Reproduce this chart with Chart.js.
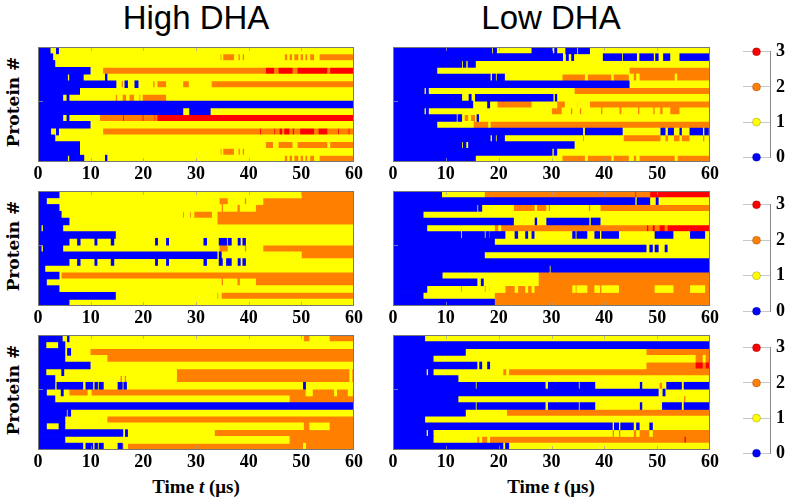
<!DOCTYPE html>
<html>
<head>
<meta charset="utf-8">
<script src="https://cdn.jsdelivr.net/npm/chart.js@4.4.1/dist/chart.umd.min.js"></script>
<style>
  body { margin: 0; background: #fff; }
  #fig { position: relative; width: 787px; height: 502px; overflow: hidden; }
  #fig canvas { position: absolute; }
  .title { position: absolute; top: 1px; font: 33px "Liberation Sans", Arial, sans-serif; line-height: 33px; transform: translateX(-50%); white-space: nowrap; }
  .ylab { position: absolute; left: 13px; font: bold 17px "DejaVu Serif", serif; white-space: nowrap; transform: translate(-50%, -50%) rotate(-90deg); }
  .xlab { position: absolute; top: 487px; font: bold 19px "Liberation Serif", serif; white-space: nowrap; transform: translate(-50%, -50%); }
</style>
</head>
<body>
<div id="fig">
  <div class="title" style="left:196px">High DHA</div>
  <div class="title" style="left:551px">Low DHA</div>
  <div class="ylab" style="top:102px">Protein #</div>
  <div class="ylab" style="top:246px">Protein #</div>
  <div class="ylab" style="top:390px">Protein #</div>
  <div class="xlab" style="left:196px">Time <i>t</i> (μs)</div>
  <div class="xlab" style="left:551px">Time <i>t</i> (μs)</div>
</div>
<script>
// I keep the data up here: proteins (rows), time ticks, states and colours
const proteins = ['1','2','3','4','5','6','7','8','9','10','11','12','13','14','15','16','17'];
const timeTicks = [0, 10, 20, 30, 40, 50, 60];
const states = [0, 1, 2, 3];
const stateLabels = ['0', '1', '2', '3'];
const stateColors = ['#0000ff', '#ffff00', '#ff8000', '#ff0000'];

// Each row is a list of [time in us, new state] change points, top row first
const highDhaTop = [
  [[0,0],[2.3,1],[3.5,0],[3.9,1]],
  [[0,0],[2.8,1],[34.6,2],[34.9,1],[35.1,2],[37.3,1],[38,2],[38.4,1],[38.8,2],[39.2,1],[46.8,2],[47.4,1],[47.7,2],[48.3,1],[48.6,2],[49.5,1],[49.8,2],[50.4,1],[50.7,2],[51.2,1],[51.6,2],[52.5,1],[53.4,2]],
  [[0,0],[3.2,1]],
  [[0,0],[9.9,1],[12.3,2],[43.2,3],[44.9,2],[45.6,3],[48.4,2],[49.2,3],[55,2],[55.4,3]],
  [[0,0],[5.6,1],[6,0],[8.6,1],[12.8,0],[13.1,1]],
  [[0,0],[14.8,1],[15.8,2],[16.2,1],[16.5,0],[17,1],[18.4,0],[19,1],[21.8,2],[22.2,1],[22.6,2],[24.4,1],[27.5,2],[28.7,1],[32.9,2]],
  [[0,0],[7.9,1]],
  [[0,0],[4.7,1],[5.5,0],[5.9,1],[14.7,2],[15.1,1],[16,2],[16.8,1],[17.3,2],[18.3,1],[19.2,2],[19.5,1],[19.8,2],[24.4,1]],
  [[0,0]],
  [[0,0],[27.5,1],[28.8,0],[32.7,1]],
  [[0,0],[4.7,1],[5.5,0],[5.9,1],[11.7,2],[16.1,3],[16.4,2],[19.8,3],[20.1,2],[22,3],[22.2,2],[22.6,3]],
  [[0,0],[9.9,1]],
  [[0,0],[2.4,1],[3.5,0],[3.9,1],[12.3,2],[42.1,3],[42.4,2],[44.8,3],[45.1,2],[45.8,3],[46.4,2],[46.7,3],[47.8,2],[48.3,3],[48.7,2],[49.7,3],[52.5,2],[53.2,3],[55,2],[56.9,3],[57.2,2],[58.9,3],[59.2,2]],
  [[0,0],[3.2,1]],
  [[0,0],[7.9,1],[43.2,2],[44.7,1],[45.6,2],[48.4,1],[49.2,2],[55,1],[55.4,2]],
  [[0,0],[7.9,1],[34.6,2],[34.9,1],[35.1,2],[37.3,1],[38,2],[38.4,1],[38.8,2],[39.2,1]],
  [[0,0],[5.6,1],[6,0],[8.7,1],[12.8,0],[13.1,1],[46.8,2],[47.4,1],[47.7,2],[48.3,1],[48.6,2],[49.5,1],[49.8,2],[50.4,1],[50.7,2],[51.2,1],[51.6,2],[52.5,1],[53.4,2]]
];

const lowDhaTop = [
  [[0,0],[18.7,1],[19,0],[19.6,1],[26.3,0],[30.2,1],[30.6,0],[31,1],[32.7,0],[34.8,1],[35.1,0],[37.2,1]],
  [[0,0],[32.1,1],[32.8,0],[33.2,1],[33.8,0],[34.2,1],[39.8,0],[43.3,1],[43.6,0],[46.1,1],[46.7,0],[49.3,1],[49.7,0],[50.2,1],[51.2,0],[52.4,1],[54.3,0]],
  [[0,0],[13,1],[13.3,0],[13.8,1],[14.2,0],[15.6,1]],
  [[0,0],[8.3,1],[44.7,2]],
  [[0,0],[18.4,1],[18.8,0],[19.4,1],[19.7,0],[21.1,1],[32,2],[36.4,1],[36.8,2],[41.4,1],[41.7,2],[44.7,1],[45.5,2],[46.1,1],[46.6,2],[53.4,1],[53.7,2]],
  [[0,0],[44.7,1]],
  [[0,0],[5.9,1],[6.3,0],[6.7,1],[34.3,2]],
  [[0,0],[13,1],[14.4,0],[14.8,1],[15.6,0],[30.3,1],[30.7,0],[31,1]],
  [[0,0],[15.1,1],[17.9,0],[18.3,1],[19.7,2],[26.3,1],[31,2],[32.6,1],[34.9,2],[35.1,1],[37.2,2]],
  [[0,0],[5.9,1],[6.3,0],[6.7,1],[30,2],[32,1],[33.6,2],[34,1],[35.3,2],[35.7,1],[39.3,2],[39.7,1],[42.8,2],[43.3,1],[46.3,2],[46.7,1],[49.2,2],[49.6,1],[50.5,2],[51.1,1],[52.4,2],[54.3,1]],
  [[0,0],[12,1],[12.3,0],[13,1],[13.5,2],[14.3,1],[14.7,2],[15.6,1],[15.9,0],[16.2,1]],
  [[0,0],[8.3,1],[15.2,2],[18.1,1],[18.4,2]],
  [[0,0],[35.9,1],[36.4,0],[43.4,1],[50.7,0],[51.5,1],[52.1,0],[53.1,1],[54.3,0],[54.6,1],[56.2,0],[58.6,1],[59,0],[59.7,1]],
  [[0,0],[18.4,1],[18.8,0],[19.4,1],[19.7,0],[21.1,1],[35.9,2],[36.2,1],[43.6,2],[50.7,1],[51.5,2],[52.1,1],[53.1,2],[54.3,1],[54.6,2],[56.2,1],[58.6,2],[59,1],[59.7,2]],
  [[0,0],[13,1],[13.3,0],[13.8,1],[14.3,0],[34.3,1]],
  [[0,0],[30.1,1],[30.5,0],[31,1]],
  [[0,0],[15.6,1],[32,2],[36.4,1],[36.8,2],[41.4,1],[41.7,2],[44.7,1],[45.5,2],[46.1,1],[46.6,2],[53.4,1],[53.8,2]]
];

const highDhaMid = [
  [[0,0],[4,1],[50,2]],
  [[0,0],[1.6,1],[34.4,2],[36.1,1],[39.2,2],[39.6,1],[42.7,2]],
  [[0,0],[4,1],[34.8,2],[35.2,1],[37.8,2],[38.4,1],[41.3,2]],
  [[0,0],[4.4,1],[27.5,2],[27.8,1],[28.8,2],[29.1,1],[29.6,2],[33.1,1],[34,2]],
  [[0,0],[5.9,1],[34,2]],
  [[0,0],[0.6,1],[1,0],[4.7,1]],
  [[0,0],[14.7,1]],
  [[0,0],[5.9,1],[7.5,0],[8,1],[10.8,0],[11.2,1],[13.9,0],[14.4,1],[22.3,0],[22.7,1],[24.4,0],[24.8,1],[31.5,0],[32,1],[34.4,0],[35.8,1],[36.1,0],[36.7,1],[38,0],[38.4,1],[38.9,0],[39.4,1]],
  [[0,0],[0.6,1],[1,0],[4.7,1],[34.4,2],[36.1,1],[39.2,2],[39.6,1],[42.7,2]],
  [[0,0],[34,1],[34.4,0],[34.8,1],[50,2]],
  [[0,0],[5.9,1],[7.5,0],[8,1],[10.8,0],[11.2,1],[13.9,0],[14.4,1],[22.3,0],[22.7,1],[24.4,0],[24.8,1],[31.5,0],[32,1],[34.4,0],[35,1],[35.8,0],[36.7,1],[38,0],[38.4,1],[38.9,0],[39.4,1]],
  [[0,0],[1.3,1]],
  [[0,0],[4,1],[4.4,2]],
  [[0,0],[1.6,1],[34.8,2],[35.2,1],[37.8,2],[38.4,1],[41.3,2]],
  [[0,0],[4,1]],
  [[0,0],[14.7,1],[34,2],[34.3,1],[34.8,2]],
  [[0,0],[5.9,1]]
];

const lowDhaMid = [
  [[0,0],[9.2,1],[17.3,2],[45.8,3],[46.1,2],[48.6,3]],
  [[0,0],[45.8,1],[46.2,0],[48.6,1],[49.8,0],[50.2,1]],
  [[0,0],[15.9,1],[16.2,0],[16.8,1],[22.8,2],[26.9,1],[27.2,2],[29.1,1],[29.4,2],[29.8,1],[37,2],[37.4,1],[39.2,2]],
  [[0,0],[5.7,1]],
  [[0,0],[22.8,1],[26.9,0],[27.2,1],[29.1,0],[37.1,1],[37.5,0],[39.2,1]],
  [[0,0],[6.4,1],[19.2,2],[20,1],[20.4,2],[48,3],[48.4,2],[49.1,3],[49.6,2],[50.4,3],[51.5,2],[51.9,3]],
  [[0,0],[12.8,1],[13.1,0],[17.3,1],[17.6,0],[18.1,1],[18.3,0],[21.2,1],[23.1,0],[23.6,1],[25.1,0],[25.5,1],[26.3,0],[26.7,1],[34,0],[34.5,1],[34.8,0],[36.7,1],[38.2,0],[39.1,1],[39.5,0],[42.7,1],[49.6,0],[53,1],[56.3,0],[59,1]],
  [[0,0],[19.2,1]],
  [[0,0],[47.9,1],[48.6,0],[49.1,1],[49.6,0],[50.2,1],[51.5,0],[51.9,1]],
  [[0,0],[17.3,1]],
  [[0,0]],
  [[0,0],[29.6,1],[29.9,0]],
  [[0,0],[9.3,1],[27.5,2]],
  [[0,0],[15.9,1],[16.7,0],[17.1,1],[27.5,2]],
  [[0,0],[6.4,1],[12.8,2],[13.1,1],[17.3,2],[17.6,1],[18.1,2],[18.3,1],[21.2,2],[23.1,1],[23.6,2],[25.1,1],[25.5,2],[26.3,1],[26.7,2],[34,1],[34.5,2],[34.8,1],[36.7,2],[38.2,1],[39.1,2],[39.5,1],[42.7,2],[49.6,1],[53,2],[56.3,1],[59,2]],
  [[0,0],[5.7,1],[19.2,2]],
  [[0,0],[19.2,2]]
];

const highDhaBottom = [
  [[0,0],[4.6,1],[5.6,0],[5.9,1],[50.4,2],[51.6,1],[55.3,2]],
  [[0,0],[1.5,1],[3.9,0],[5.1,1]],
  [[0,0],[5.1,1],[5.6,0],[6.2,1],[9.9,2]],
  [[0,0],[5.1,1],[13.1,2]],
  [[0,0],[9.9,1]],
  [[0,0],[1.5,1],[4.5,0],[4.9,1],[26.3,2],[59.2,1],[59.6,2]],
  [[0,0],[3.2,1],[15.6,2],[16,1],[16.4,2],[16.8,1],[26.3,2],[59.2,1],[59.6,2]],
  [[0,0],[3.2,1],[3.6,0],[8.5,1],[9.1,0],[10.4,1],[10.8,0],[11.3,1],[11.6,0],[12.4,1],[15.2,0],[16,1],[16.3,0],[16.8,1],[50.4,0],[50.8,1]],
  [[0,0],[1.6,1],[4.4,0],[4.8,1],[5.9,2],[9.5,1],[10.1,2],[50.9,1],[52.1,2],[56.3,1],[56.7,2],[58.9,1],[59.7,2]],
  [[0,0],[3.2,1],[47.7,2]],
  [[0,0]],
  [[0,0],[5.4,1],[5.7,0],[6.2,1]],
  [[0,0],[5.1,1],[13.1,2]],
  [[0,0],[1.6,1],[4,0],[5.1,1],[50.4,2],[51.6,1],[55.3,2]],
  [[0,0],[16.1,1],[16.6,0],[17,1],[33.5,2]],
  [[0,0],[5.1,1],[47.7,2]],
  [[0,0],[8.5,1],[9.1,0],[10.4,1],[10.8,0],[11.3,1],[11.6,0],[12.4,1],[15.2,0],[16,2],[16.3,1],[17,2],[50.4,1],[50.8,2]]
];

const lowDhaBottom = [
  [[0,0],[6,1]],
  [[0,0]],
  [[0,0],[13.7,1],[47.9,2]],
  [[0,0],[7.6,1],[57.2,2],[58.7,1],[59.1,2]],
  [[0,0],[15.9,1],[16.4,0],[16.8,1],[17.9,0],[18.3,1],[47.9,2],[57.2,3],[58.7,2],[59.1,3]],
  [[0,0],[6.3,1],[6.7,0],[7.6,1],[20.8,2],[21.5,1],[21.9,2]],
  [[0,0],[12.3,1]],
  [[0,0],[15.6,1],[15.9,0],[28.8,1],[29.4,0],[35.1,1],[35.4,0],[38.2,1],[46.8,0],[47.1,1],[50.4,2],[51,1],[51.8,0],[54.6,1],[55.1,0]],
  [[0,0],[50.2,1],[51.1,0],[51.5,1]],
  [[0,0],[12.3,1],[55,2],[55.4,1]],
  [[0,0],[15.6,1],[15.9,0],[28.8,1],[29.4,0],[35.1,1],[35.4,0],[38.2,1],[46.8,0],[47.1,1],[51,0],[54.6,1],[55.1,0]],
  [[0,0],[13.7,1],[21.5,2]],
  [[0,0],[6,1]],
  [[0,0],[41.5,1],[41.9,0],[42.7,1],[43.1,0],[45.5,1],[46.1,0],[46.6,1],[48.6,0],[49.1,1]],
  [[0,0],[6.3,1],[6.7,0],[7.6,1],[41.5,2],[41.9,1],[42.7,2],[43.1,1],[45.5,2],[46.1,1],[46.6,2],[48.6,1],[49.1,2]],
  [[0,0],[7.6,1],[15.9,2],[16.4,1],[16.8,2],[17.9,1],[18.3,2],[55.1,3],[55.5,2]],
  [[0,0],[20.8,1],[21.3,0],[21.9,1]]
];

const tickFont = { family: '"Liberation Serif", serif', size: 18, weight: 'bold' };
const tMax = timeTicks[timeTicks.length - 1];

// I turn the change points of every row into floating bars, one list per state
function toSegments(rows) {
  const byState = states.map(() => []);
  rows.forEach((changes, r) => {
    changes.forEach(([t, s], k) => {
      const end = k + 1 < changes.length ? changes[k + 1][0] : tMax;
      byState[s].push({ x: [t, end], y: proteins[r] });
    });
  });
  return byState;
}

// I draw the grey frame and the faint inner tick marks on top of the bars
const panelFrame = {
  id: 'panelFrame',
  afterDatasetsDraw(chart) {
    const { ctx, chartArea: a, scales: { x } } = chart;
    ctx.save();
    ctx.strokeStyle = 'rgba(160,160,160,0.7)';
    ctx.lineWidth = 1;
    ctx.beginPath();
    timeTicks.slice(1, -1).forEach(v => {
      const px = Math.round(x.getPixelForValue(v)) + 0.5;
      ctx.moveTo(px, a.top); ctx.lineTo(px, a.top + 4);
      ctx.moveTo(px, a.bottom); ctx.lineTo(px, a.bottom - 4);
    });
    const py = Math.round(a.top + (a.bottom - a.top) * 8 / proteins.length) + 0.5;
    ctx.moveTo(a.left, py); ctx.lineTo(a.left + 5, py);
    ctx.stroke();
    ctx.strokeStyle = '#777';
    ctx.strokeRect(a.left + 0.5, a.top + 0.5, a.right - a.left - 1, a.bottom - a.top - 1);
    ctx.restore();
  }
};

// I make one canvas per panel, placed so its chart area lands on the plot box
function makePanel(rows, left, top, width, height) {
  const padX = 12, padTop = 2, axisH = 26;
  const canvas = document.createElement('canvas');
  canvas.width = width + 2 * padX;
  canvas.height = height + padTop + axisH;
  canvas.style.left = (left - padX) + 'px';
  canvas.style.top = (top - padTop) + 'px';
  document.getElementById('fig').appendChild(canvas);

  const segs = toSegments(rows);
  new Chart(canvas, {
    type: 'bar',
    data: {
      labels: proteins,
      datasets: states.map(s => ({
        data: segs[s],
        backgroundColor: stateColors[s],
        borderWidth: 0,
        grouped: false,
        inflateAmount: 0.4,
        categoryPercentage: 1,
        barPercentage: 1
      }))
    },
    options: {
      indexAxis: 'y',
      responsive: false,
      animation: false,
      layout: { padding: { left: padX, right: padX, top: padTop, bottom: 0 } },
      plugins: { legend: { display: false }, tooltip: { enabled: false } },
      scales: {
        y: { type: 'category', display: false, offset: true },
        x: {
          type: 'linear', min: 0, max: tMax,
          afterBuildTicks: (scale) => { scale.ticks = timeTicks.map(v => ({ value: v })); },
          afterFit: (scale) => { scale.height = axisH; },
          grid: { display: false, drawTicks: false },
          border: { display: false },
          ticks: { font: tickFont, color: '#000', padding: 2, maxRotation: 0 }
        }
      }
    },
    plugins: [panelFrame]
  });
}

// I build the small state key on the right: dots on a vertical 0..3 axis
function makeKey(top, height) {
  const padLeft = 8, padV = 12, axisW = 17;
  const canvas = document.createElement('canvas');
  canvas.width = 52;
  canvas.height = height + 2 * padV;
  canvas.style.left = '735px';
  canvas.style.top = (top - padV) + 'px';
  document.getElementById('fig').appendChild(canvas);

  new Chart(canvas, {
    type: 'scatter',
    data: {
      datasets: [{
        data: states.map(s => ({ x: 0.5, y: s })),
        clip: false,
        pointRadius: 4,
        pointBackgroundColor: stateColors,
        pointBorderColor: 'rgba(0,0,0,0.25)',
        pointBorderWidth: 0.8
      }]
    },
    options: {
      responsive: false,
      animation: false,
      layout: { padding: { left: padLeft, right: 0, top: padV, bottom: padV } },
      plugins: { legend: { display: false }, tooltip: { enabled: false } },
      scales: {
        x: { display: false, min: 0, max: 1 },
        y: {
          position: 'right', min: 0, max: states.length - 1,
          afterFit: (scale) => { scale.width = axisW; },
          grid: { color: '#c8c8c8', drawTicks: false },
          border: { display: true, color: '#888' },
          ticks: { stepSize: 1, padding: 6, color: '#000', font: tickFont,
                   callback: (v) => stateLabels[v] }
        }
      }
    }
  });
}

const plotLefts = [38, 393];
const plotWidths = [316, 317];
const plotTops = [47, 191, 335];
const plotH = 115;

makePanel(highDhaTop, plotLefts[0], plotTops[0], plotWidths[0], plotH);
makePanel(lowDhaTop, plotLefts[1], plotTops[0], plotWidths[1], plotH);
makePanel(highDhaMid, plotLefts[0], plotTops[1], plotWidths[0], plotH);
makePanel(lowDhaMid, plotLefts[1], plotTops[1], plotWidths[1], plotH);
makePanel(highDhaBottom, plotLefts[0], plotTops[2], plotWidths[0], plotH);
makePanel(lowDhaBottom, plotLefts[1], plotTops[2], plotWidths[1], plotH);

makeKey(47, 115);
makeKey(200, 116);
makeKey(343, 115);
</script>
</body>
</html>
